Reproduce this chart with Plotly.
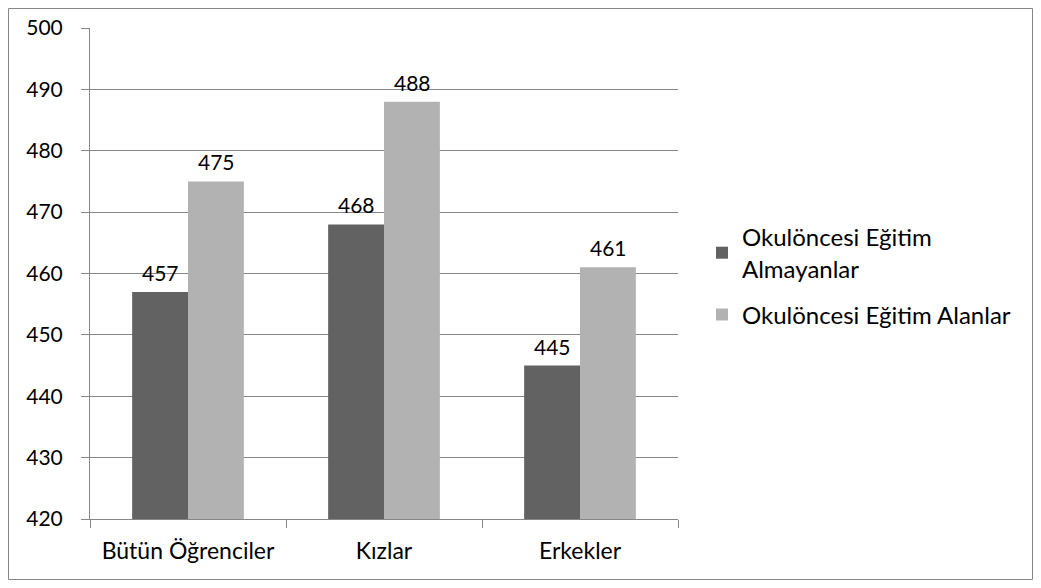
import plotly.graph_objects as go

categories = ["Bütün Öğrenciler", "Kızlar", "Erkekler"]
almayanlar = [457, 468, 445]
alanlar = [475, 488, 461]
series_names = ["Okulöncesi Eğitim<br>Almayanlar", "Okulöncesi Eğitim Alanlar"]
colors = ["#626262", "#B2B2B2"]

font_family = "Lato"
# page body adds an 8px margin, so work in shifted coordinates
OFF = 8
W, H = 1041 - 2 * OFF, 588 - 2 * OFF
L, T = 90 - OFF, 28 - OFF
R = W - (678 - OFF)
B = H - (519 - OFF)
pw, ph = W - L - R, H - T - B


def px_x(x):
    return (x - OFF - L) / pw


def px_y(y):
    return (H - B - (y - OFF)) / ph


fig = go.Figure()
for i, (vals, name) in enumerate([(almayanlar, series_names[0]), (alanlar, series_names[1])]):
    fig.add_trace(go.Bar(
        x=categories, y=vals, name=name, legendgroup=f"g{i}",
        marker_color=colors[i], marker_line_width=0,
    ))
    # value labels above each bar
    for cat, v in zip(categories, vals):
        fig.add_annotation(
            x=cat, y=v, text=str(v), showarrow=False,
            xshift=-28 if i == 0 else 28, yshift=5, yanchor="bottom",
            font=dict(size=21, color="black", family=font_family),
        )

# outer chart border
fig.add_shape(
    type="rect", xref="paper", yref="paper",
    x0=px_x(8.5), x1=px_x(1032.5), y0=px_y(579.5), y1=px_y(8.5),
    line=dict(color="#868686", width=1), fillcolor="rgba(0,0,0,0)",
    layer="below",
)

fig.update_layout(
    width=W, height=H,
    margin=dict(l=L, r=R, t=T, b=B),
    plot_bgcolor="white", paper_bgcolor="white",
    barmode="group", bargap=0.43, bargroupgap=0,
    font=dict(family=font_family, size=21, color="black"),
    xaxis=dict(
        tickson="boundaries", ticks="outside", ticklen=8,
        tickcolor="#868686", showline=True, linecolor="#868686",
        showgrid=False, ticklabelstandoff=11, automargin=False,
        tickfont=dict(size=23),
    ),
    yaxis=dict(
        range=[420, 500], dtick=10, ticks="outside", ticklen=8,
        tickcolor="#868686", showline=True, linecolor="#868686",
        gridcolor="#868686", gridwidth=1, zeroline=False,
        ticklabelstandoff=14, automargin=False,
        tickfont=dict(size=21),
    ),
    legend=dict(
        x=px_x(702), xanchor="left",
        y=px_y(276), yanchor="middle",
        bgcolor="rgba(0,0,0,0)",
        itemwidth=30, tracegroupgap=12,
        font=dict(size=24),
    ),
    showlegend=True,
)

fig.write_html("out.html")
